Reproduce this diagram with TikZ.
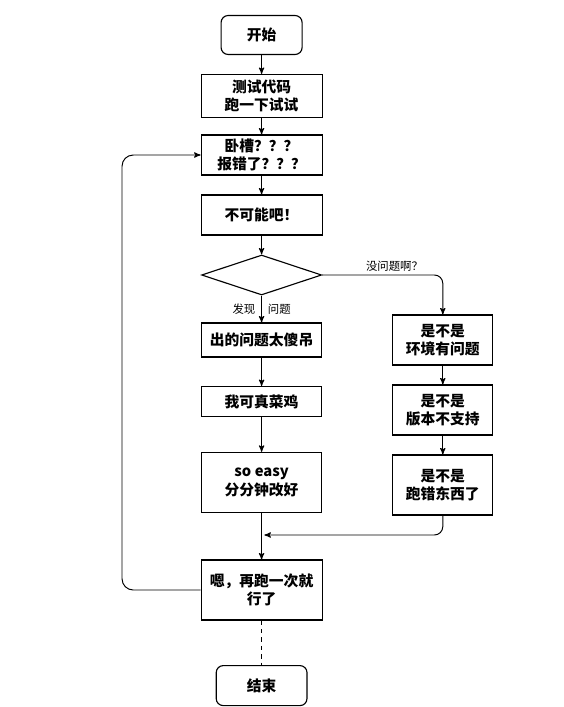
\documentclass[tikz,border=0pt]{standalone}
\usepackage{fontspec}
\setmainfont{Noto Sans CJK SC}
\usepackage{xcolor}
\usepackage{tikz}
\usetikzlibrary{arrows, shapes.geometric}

\tikzset{
  stepbox/.style={rectangle, draw, line width=0.8pt, fill=white, align=center, inner sep=1pt, font=\fontsize{10.5}{13}\selectfont\bfseries},
  endbox/.style={stepbox, rounded corners=5pt},
  flow/.style={-stealth', line width=0.7pt},
  note/.style={font=\fontsize{8.1}{10}\selectfont, inner sep=1pt}
}

\begin{document}
\begin{tikzpicture}
\useasboundingbox (0,0) rectangle (14.075,-17.675);

\node[endbox, minimum width=2.025cm, minimum height=0.975cm] (start) at (6.54,-0.875) {开始};

\node[stepbox, minimum width=3.025cm, minimum height=1.075cm] (test) at (6.54,-2.4) {测试代码\\跑一下试试};

\node[stepbox, minimum width=3.025cm, minimum height=1cm] (wocao) at (6.54,-3.875) {卧槽？？？\\报错了？？？};

\node[stepbox, minimum width=3.025cm, minimum height=1cm] (bukeneng) at (6.54,-5.375) {不可能吧！};

\node[diamond, draw, line width=0.8pt, inner sep=0pt, minimum width=3cm, minimum height=1cm] (check) at (6.54,-6.875) {};

\node[stepbox, minimum width=3cm, minimum height=0.85cm] (shadiao) at (6.54,-8.5) {出的问题太傻吊};

\node[stepbox, minimum width=3cm, minimum height=0.75cm] (caiji) at (6.54,-10.04) {我可真菜鸡};

\node[stepbox, minimum width=3cm, minimum height=1.5cm] (easy) at (6.54,-12.06) {so easy\\分分钟改好};

\node[stepbox, minimum width=2.5cm, minimum height=1.25cm] (huanjing) at (11.07,-8.5) {是不是\\环境有问题};

\node[stepbox, minimum width=2.5cm, minimum height=1.25cm] (banben) at (11.07,-10.25) {是不是\\版本不支持};

\node[stepbox, minimum width=2.5cm, minimum height=1.5cm] (paocuo) at (11.07,-12.125) {是不是\\跑错东西了};

\node[stepbox, minimum width=3.025cm, minimum height=1.5cm] (zaipao) at (6.54,-14.75) {嗯，再跑一次就\\行了};

\node[endbox, minimum width=2.27cm, minimum height=1cm] (end) at (6.54,-17.14) {结束};

\coordinate (merge) at (6.54,-13.375);
\coordinate (back) at (3.05,-3.875);

\draw[flow] (start) -- (test);
\draw[flow] (test) -- (wocao);
\draw[flow] (wocao) -- (bukeneng);
\draw[flow] (bukeneng) -- (check);
\draw[flow] (check.south) -- node[note] {发现\hspace{1.1em}问题} (shadiao);
\draw[flow] (shadiao) -- (caiji);
\draw[flow] (caiji) -- (easy);
\draw[flow] (easy) -- (zaipao);
\draw[flow, rounded corners=6pt] (check.east) -| node[note, pos=0.3, above=1pt] {没问题啊？} (huanjing.north);
\draw[flow] (huanjing) -- (banben);
\draw[flow] (banben) -- (paocuo);
\draw[flow, rounded corners=6pt, shorten >=2pt] (paocuo.south) |- (merge);
\draw[flow, rounded corners=8pt] (zaipao.west) -| (back) -- (wocao.west);
\draw[dashed, line width=0.7pt] (zaipao) -- (end);

\end{tikzpicture}
\end{document}
